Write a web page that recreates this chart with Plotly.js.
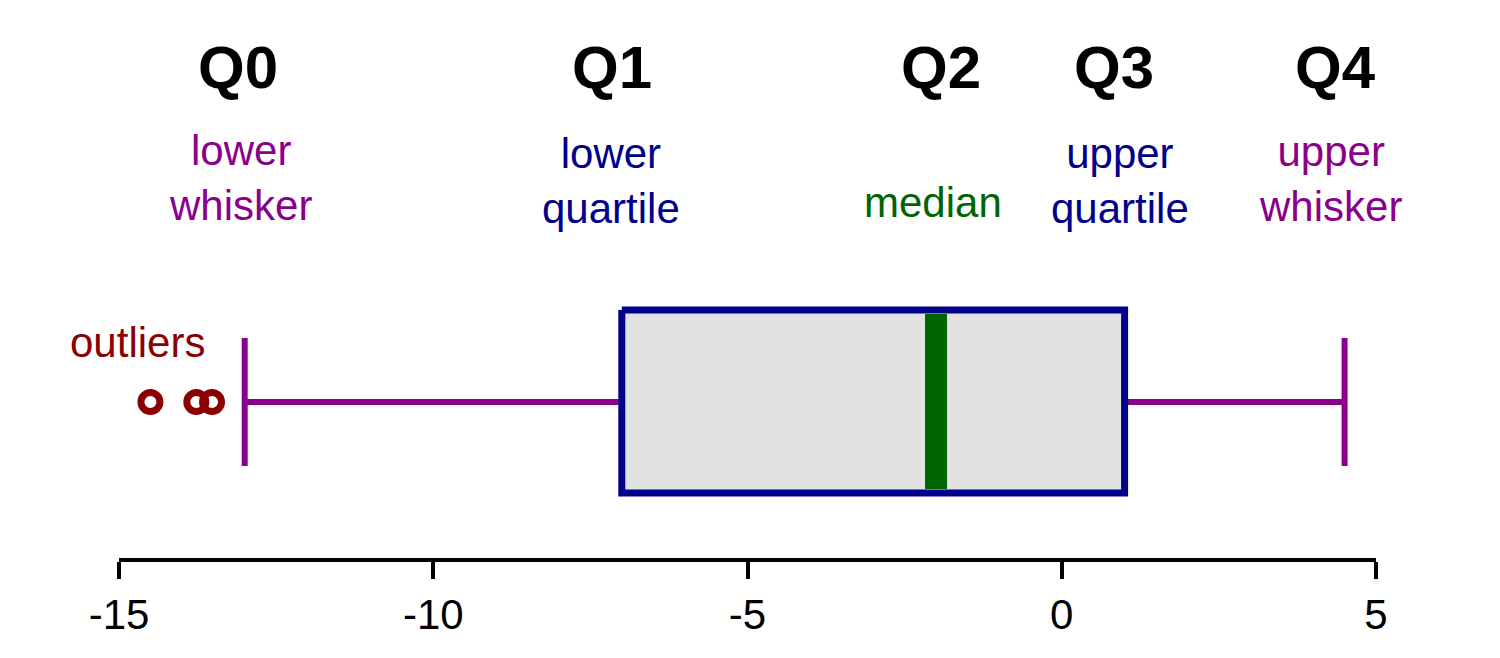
<!DOCTYPE html>
<html><head><meta charset="utf-8">
<script src="https://cdn.plot.ly/plotly-3.0.1.min.js"></script>
<style>html,body{margin:0;padding:0;background:#fff;}#chart{width:1500px;height:658px;}</style>
</head><body><div id="chart"></div>
<script>
// Five-number summary and outliers
const q0 = -13.0, q1 = -7.0, q2 = -2.0, q3 = 1.0, q4 = 4.5;
const outliers = [-14.5, -13.77, -13.52];
const quantNames = ["Q0", "Q1", "Q2", "Q3", "Q4"];
const quantLabels = ["lower<br>whisker", "lower<br>quartile", "median", "upper<br>quartile", "upper<br>whisker"];
const labelColors = ["#8B008B", "#00008B", "#006400", "#00008B", "#8B008B"];
const tickVals = [-15, -10, -5, 0, 5];
const tickText = ["-15", "-10", "-5", "0", "5"];

// vertical layout (pixel-like y units, reversed axis)
const yMid = 402, boxTop = 310, boxBot = 493, whTop = 338, whBot = 466;
const nameX = [-13.11, -7.16, -1.92, 0.83, 4.36];
const labelX = [-13.06, -7.17, -2.05, 0.93, 4.28];
const labelY = [178, 181, 202, 181, 179];

const purple = "#8B008B", navy = "#00008B", green = "#006400", dred = "#8B0000";
const traces = [
  {x:[q0, q1], y:[yMid, yMid], mode:"lines", line:{color:purple, width:6}},
  {x:[q3, q4], y:[yMid, yMid], mode:"lines", line:{color:purple, width:6}},
  {x:[q0, q0], y:[whTop, whBot], mode:"lines", line:{color:purple, width:6}},
  {x:[q4, q4], y:[whTop, whBot], mode:"lines", line:{color:purple, width:6}},
  {x:[q1, q3, q3, q1, q1], y:[boxTop, boxTop, boxBot, boxBot, boxTop], mode:"lines",
   fill:"toself", fillcolor:"#E2E2E2", line:{color:navy, width:7}},
  {x:[q2, q2], y:[boxTop+4, boxBot-4], mode:"lines", line:{color:green, width:22}},
  {x:outliers, y:outliers.map(()=>yMid), mode:"markers",
   marker:{symbol:"circle-open", size:19, color:dred, line:{color:dred, width:7}}}
];
traces.forEach(t=>{t.showlegend=false; t.hoverinfo="skip"; t.cliponaxis=false;});

const annotations = [];
for (let i=0;i<5;i++){
  annotations.push({x:nameX[i], y:67, xref:"x", yref:"y", text:"<b>"+quantNames[i]+"</b>",
    showarrow:false, font:{family:"Liberation Sans, Arial, sans-serif", size:60, color:"#000"}, xanchor:"center", yanchor:"middle"});
  annotations.push({x:labelX[i], y:labelY[i], xref:"x", yref:"y", text:quantLabels[i],
    showarrow:false, font:{family:"Liberation Sans, Arial, sans-serif", size:42, color:labelColors[i]}, xanchor:"center", yanchor:"middle"});
}
annotations.push({x:-14.71, y:342, xref:"x", yref:"y", text:"outliers", showarrow:false,
  font:{family:"Liberation Sans, Arial, sans-serif", size:42, color:dred}, xanchor:"center", yanchor:"middle"});

const layout = {
  width:1500, height:658,
  margin:{l:119, r:124, t:0, b:100},
  paper_bgcolor:"#fff", plot_bgcolor:"#fff",
  showlegend:false,
  xaxis:{range:[-15,5], tickvals:tickVals, ticktext:tickText, showgrid:false, zeroline:false,
    showline:true, linecolor:"#000", linewidth:4, ticks:"outside", ticklen:17, tickwidth:4, tickcolor:"#000",
    tickfont:{family:"Liberation Sans, Arial, sans-serif", size:42, color:"#000"}, fixedrange:true},
  yaxis:{range:[558,0], visible:false, showgrid:false, zeroline:false, fixedrange:true},
  annotations:annotations
};
Plotly.newPlot("chart", traces, layout, {staticPlot:true, displayModeBar:false});
</script></body></html>
